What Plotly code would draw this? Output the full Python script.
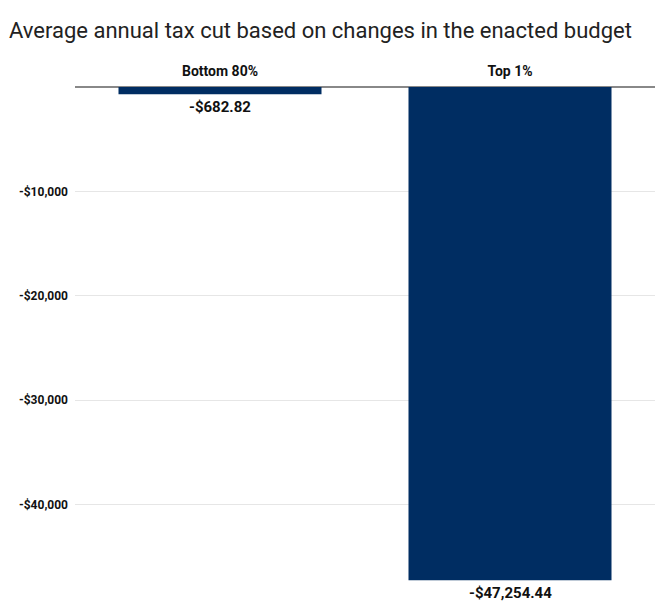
import plotly.graph_objects as go

categories = ["Bottom 80%", "Top 1%"]
values = [-682.82, -47254.44]
value_labels = ["-$682.82", "-$47,254.44"]
tick_vals = [-40000, -30000, -20000, -10000]
tick_text = ["-$40,000", "-$30,000", "-$20,000", "-$10,000"]

FONT = "Roboto, sans-serif"
BAR = "#002D62"

fig = go.Figure(go.Bar(
    x=categories, y=values, width=0.7,
    marker=dict(color=BAR, line=dict(width=0)),
    hoverinfo="x+y",
))

for c, v, t in zip(categories, values, value_labels):
    fig.add_annotation(
        x=c, y=v, text=t, showarrow=False, yanchor="top", yshift=-3, borderpad=0,
        font=dict(family=FONT, size=15, color="#111111", weight="bold"),
    )

fig.add_annotation(
    text="Average annual tax cut based on changes in the enacted budget",
    xref="paper", yref="paper", x=-0.118, y=1.0, yanchor="middle", xanchor="left",
    yshift=57, showarrow=False,
    font=dict(family=FONT, size=22, color="#222222"),
)

fig.update_layout(
    width=660, height=602,
    margin=dict(l=75, r=5, t=87, b=0),
    paper_bgcolor="white", plot_bgcolor="white",
    showlegend=False,
    font=dict(family=FONT),
)
fig.update_xaxes(
    side="top", showline=False, showgrid=False, ticks="",
    tickfont=dict(family=FONT, size=14, color="#111111", weight="bold"),
    ticklabelstandoff=7,
)
fig.update_yaxes(
    range=[-49330, 0], tickvals=tick_vals, ticktext=tick_text,
    showgrid=True, gridcolor="#e6e6e6", gridwidth=1,
    zeroline=True, zerolinecolor="#888888", zerolinewidth=1.5,
    tickfont=dict(family=FONT, size=12, color="#111111", weight="bold"),
    ticks="", ticklabelstandoff=6,
)
fig.write_html("out.html")
